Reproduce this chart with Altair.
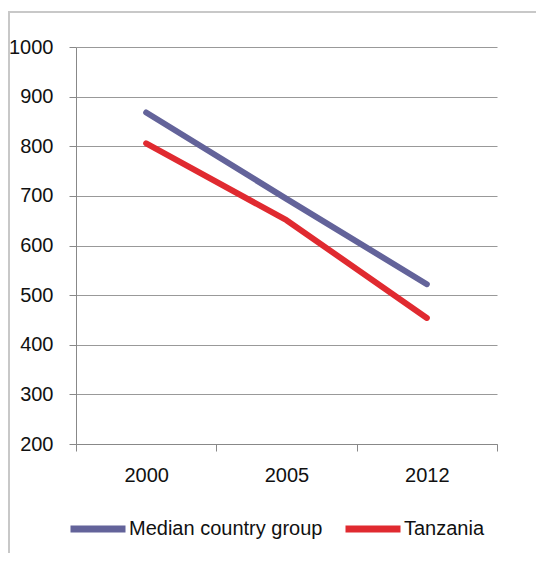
import altair as alt
import pandas as pd

years = ["2000", "2005", "2012"]
median_group = [868, 694, 522]
tanzania = [806, 651, 454]
series_names = ["Median country group", "Tanzania"]
series_colors = ["#63639A", "#E02A30"]
y_ticks = [200, 300, 400, 500, 600, 700, 800, 900, 1000]

rows = []
for name, vals in zip(series_names, [median_group, tanzania]):
    for yr, v in zip(years, vals):
        rows.append({"year": yr, "value": v, "series": name})
df = pd.DataFrame(rows)

FONT = "Liberation Sans, Arial, sans-serif"
FS = 20

border = alt.Chart(alt.Data(values=[{}])).mark_rect(
    fill=None, stroke="#c8c8c8", strokeWidth=2
).encode(
    x=alt.value(-67), x2=alt.value(520), y=alt.value(-35), y2=alt.value(560)
)

lines = alt.Chart(df).mark_line(strokeWidth=6, strokeCap="round", strokeJoin="round").encode(
    x=alt.X("year:N", sort=years, title=None,
            scale=alt.Scale(type="band", paddingInner=0, paddingOuter=0),
            axis=alt.Axis(labelAngle=0, tickBand="extent", tickSize=7, tickColor="#888",
                          domainColor="#888", labelPadding=14, labelFontSize=FS,
                          labelColor="#111", grid=False)),
    y=alt.Y("value:Q", title=None,
            scale=alt.Scale(domain=[200, 1000], nice=False),
            axis=alt.Axis(values=y_ticks, format="d", tickSize=7, tickColor="#888",
                          domainColor="#888", gridColor="#999", labelPadding=16,
                          labelFontSize=FS, labelColor="#111")),
    color=alt.Color("series:N", sort=series_names,
                    scale=alt.Scale(domain=series_names, range=series_colors),
                    legend=alt.Legend(title=None, orient="none", direction="horizontal",
                                      legendX=-9, legendY=451,
                                      symbolType="stroke", symbolSize=3025,
                                      symbolStrokeWidth=7, labelFontSize=FS,
                                      labelColor="#111", labelOffset=0,
                                      columnPadding=8, labelLimit=400)),
)

chart = alt.layer(border, lines).properties(
    width=421, height=397,
    autosize=alt.AutoSizeParams(type="none"),
    padding={"left": 68, "top": 39, "right": 39, "bottom": 109},
).configure(font=FONT).configure_view(stroke=None).configure_axis(
    labelFont=FONT
).configure_legend(labelFont=FONT)

chart.save("out.html", embed_options={"renderer": "svg", "actions": False})
